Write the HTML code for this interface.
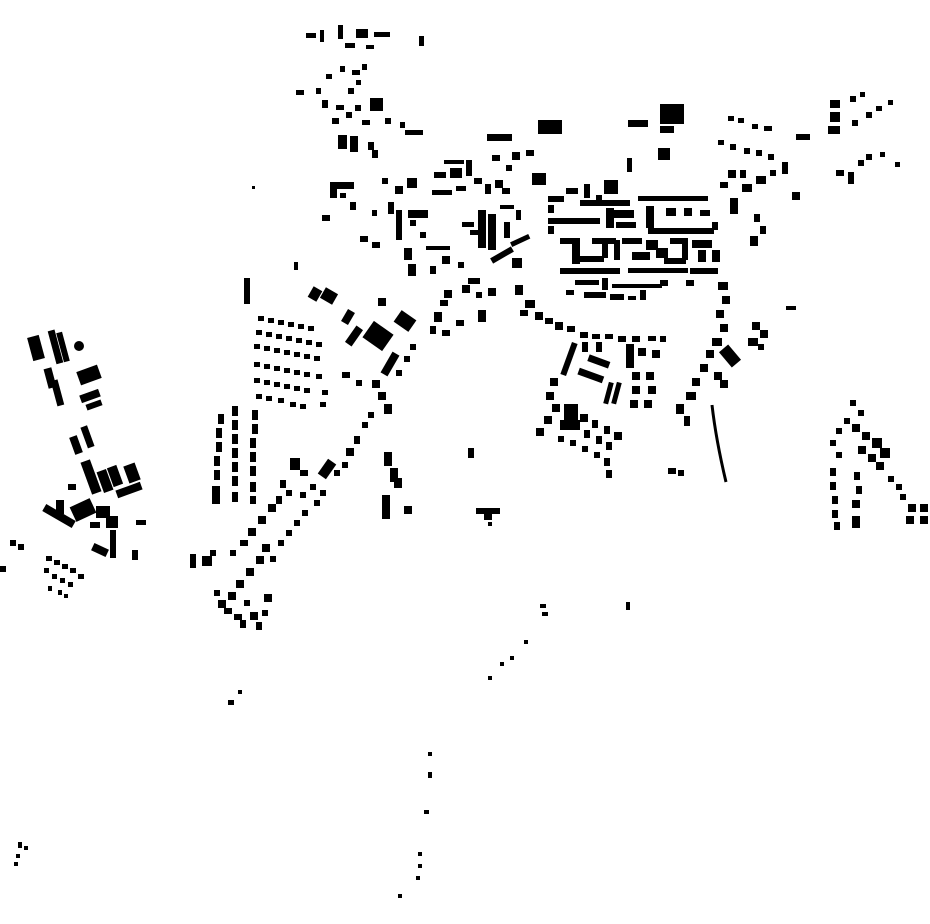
<!DOCTYPE html>
<html><head><meta charset="utf-8"><style>html,body{margin:0;padding:0;background:#fff}svg{display:block}</style></head>
<body>
<svg width="930" height="924" viewBox="0 0 930 924" xmlns="http://www.w3.org/2000/svg" fill="#000">
<!-- north cluster -->
<rect x="306" y="33" width="10" height="5"/><rect x="320" y="30" width="4" height="12"/><rect x="338" y="25" width="5" height="14"/><rect x="356" y="29" width="12" height="9"/><rect x="374" y="32" width="16" height="5"/><rect x="345" y="43" width="10" height="5"/><rect x="366" y="45" width="8" height="4"/><rect x="419" y="36" width="5" height="10"/>
<rect x="326" y="74" width="6" height="5"/><rect x="340" y="66" width="5" height="6"/><rect x="352" y="70" width="8" height="5"/><rect x="362" y="64" width="5" height="6"/><rect x="296" y="90" width="8" height="5"/><rect x="316" y="88" width="5" height="6"/><rect x="348" y="88" width="6" height="6"/><rect x="356" y="80" width="5" height="5"/>
<rect x="322" y="100" width="6" height="8"/><rect x="336" y="105" width="8" height="5"/><rect x="370" y="98" width="13" height="13"/><rect x="355" y="105" width="6" height="6"/><rect x="332" y="118" width="7" height="6"/><rect x="346" y="112" width="6" height="6"/><rect x="362" y="120" width="8" height="5"/><rect x="385" y="118" width="6" height="6"/><rect x="338" y="135" width="9" height="14"/><rect x="350" y="136" width="8" height="16"/><rect x="368" y="142" width="6" height="8"/><rect x="372" y="150" width="6" height="8"/><rect x="405" y="130" width="18" height="5"/><rect x="400" y="122" width="5" height="6"/>
<!-- north-center row -->
<rect x="487" y="134" width="25" height="7"/><rect x="538" y="120" width="24" height="14"/><rect x="628" y="120" width="20" height="7"/><rect x="660" y="104" width="24" height="20"/><rect x="660" y="126" width="14" height="7"/><rect x="658" y="148" width="12" height="12"/><rect x="627" y="158" width="5" height="14"/>
<rect x="492" y="155" width="8" height="6"/><rect x="512" y="152" width="8" height="8"/><rect x="526" y="150" width="8" height="6"/><rect x="506" y="165" width="6" height="6"/><rect x="532" y="173" width="14" height="12"/>
<!-- west of centre -->
<rect x="330" y="182" width="24" height="7"/><rect x="330" y="182" width="7" height="16"/><rect x="340" y="193" width="6" height="5"/><rect x="382" y="178" width="6" height="6"/><rect x="395" y="186" width="8" height="8"/><rect x="407" y="178" width="10" height="10"/><rect x="434" y="172" width="12" height="6"/><rect x="450" y="168" width="12" height="10"/><rect x="444" y="160" width="20" height="4"/><rect x="466" y="160" width="6" height="16"/><rect x="474" y="178" width="8" height="6"/>
<rect x="322" y="215" width="8" height="6"/><rect x="350" y="202" width="6" height="8"/><rect x="372" y="210" width="5" height="6"/><rect x="388" y="202" width="6" height="12"/><rect x="396" y="210" width="6" height="30"/><rect x="408" y="210" width="20" height="8"/><rect x="410" y="220" width="6" height="6"/><rect x="432" y="190" width="20" height="5"/><rect x="456" y="186" width="10" height="5"/><rect x="420" y="232" width="6" height="6"/>
<rect x="360" y="236" width="8" height="6"/><rect x="372" y="242" width="8" height="6"/><rect x="404" y="248" width="8" height="12"/><rect x="408" y="264" width="8" height="12"/><rect x="426" y="246" width="24" height="4"/><rect x="442" y="256" width="8" height="8"/><rect x="430" y="266" width="6" height="8"/><rect x="458" y="262" width="6" height="6"/>
<!-- belt around oval -->
<rect x="478" y="210" width="8" height="38"/><rect x="488" y="214" width="8" height="36"/><rect x="485" y="184" width="6" height="10"/><rect x="495" y="180" width="8" height="8"/><rect x="502" y="188" width="8" height="6"/><rect x="462" y="222" width="12" height="5"/><rect x="470" y="230" width="8" height="5"/><rect x="504" y="222" width="6" height="16"/><rect x="516" y="210" width="5" height="10"/><rect x="500" y="205" width="14" height="4"/>
<rect x="490" y="252" width="24" height="6" transform="rotate(-30 502 255)"/><rect x="510" y="238" width="20" height="5" transform="rotate(-25 520 240)"/><rect x="512" y="258" width="10" height="10"/><rect x="468" y="278" width="12" height="6"/><rect x="488" y="288" width="8" height="8"/><rect x="476" y="292" width="6" height="6"/><rect x="462" y="285" width="8" height="8"/>
<rect x="444" y="290" width="8" height="8"/><rect x="440" y="300" width="8" height="6"/><rect x="434" y="312" width="8" height="10"/><rect x="430" y="326" width="6" height="8"/><rect x="442" y="330" width="8" height="6"/><rect x="478" y="310" width="8" height="12"/><rect x="456" y="320" width="8" height="6"/>
<rect x="515" y="285" width="8" height="10"/><rect x="525" y="300" width="10" height="8"/><rect x="520" y="310" width="8" height="6"/><rect x="535" y="312" width="8" height="8"/><rect x="545" y="318" width="8" height="6"/><rect x="555" y="322" width="8" height="8"/><rect x="567" y="326" width="8" height="6"/><rect x="580" y="332" width="8" height="6"/><rect x="592" y="334" width="8" height="5"/><rect x="605" y="334" width="8" height="5"/><rect x="618" y="336" width="8" height="6"/><rect x="632" y="336" width="8" height="6"/><rect x="648" y="336" width="8" height="5"/><rect x="660" y="336" width="6" height="6"/>
<!-- old town oval -->
<rect x="548" y="196" width="16" height="6"/><rect x="548" y="205" width="6" height="8"/><rect x="566" y="188" width="12" height="6"/><rect x="584" y="184" width="6" height="14"/><rect x="604" y="180" width="14" height="14"/><rect x="638" y="196" width="70" height="5"/><rect x="580" y="200" width="50" height="6"/><rect x="596" y="195" width="6" height="10"/>
<rect x="548" y="218" width="52" height="6"/><rect x="548" y="226" width="6" height="8"/><rect x="606" y="208" width="8" height="20"/><rect x="614" y="210" width="20" height="8"/><rect x="616" y="222" width="20" height="6"/><rect x="646" y="206" width="8" height="22"/><rect x="648" y="228" width="66" height="6"/><rect x="666" y="208" width="10" height="8"/><rect x="684" y="208" width="8" height="8"/><rect x="700" y="210" width="10" height="6"/>
<rect x="560" y="238" width="20" height="6"/><rect x="572" y="242" width="8" height="22"/><rect x="580" y="256" width="24" height="6"/><rect x="592" y="238" width="24" height="6"/><rect x="602" y="244" width="6" height="14"/><rect x="614" y="240" width="6" height="20"/><rect x="622" y="238" width="20" height="6"/><rect x="632" y="252" width="18" height="8"/><rect x="646" y="240" width="12" height="10"/><rect x="656" y="248" width="12" height="10"/><rect x="670" y="238" width="18" height="6"/><rect x="682" y="244" width="6" height="16"/><rect x="692" y="240" width="20" height="8"/><rect x="698" y="250" width="8" height="12"/><rect x="712" y="250" width="8" height="12"/><rect x="664" y="258" width="22" height="6"/>
<rect x="560" y="268" width="60" height="6"/><rect x="628" y="268" width="60" height="5"/><rect x="690" y="268" width="28" height="6"/><rect x="575" y="280" width="24" height="5"/><rect x="602" y="278" width="6" height="12"/><rect x="612" y="284" width="50" height="4"/><rect x="660" y="280" width="8" height="6"/><rect x="686" y="280" width="8" height="6"/><rect x="584" y="292" width="22" height="6"/><rect x="610" y="294" width="14" height="6"/><rect x="640" y="290" width="6" height="10"/><rect x="628" y="296" width="8" height="4"/><rect x="566" y="290" width="8" height="5"/>
<rect x="728" y="170" width="8" height="8"/><rect x="720" y="182" width="8" height="6"/><rect x="730" y="198" width="8" height="16"/><rect x="712" y="222" width="6" height="8"/><rect x="750" y="236" width="8" height="10"/><rect x="754" y="214" width="6" height="8"/><rect x="760" y="226" width="6" height="8"/>
<!-- NE -->
<rect x="728" y="116" width="6" height="5"/><rect x="738" y="118" width="6" height="5"/><rect x="752" y="124" width="6" height="5"/><rect x="764" y="126" width="8" height="5"/><rect x="796" y="134" width="14" height="6"/><rect x="718" y="140" width="6" height="5"/><rect x="730" y="144" width="6" height="6"/><rect x="744" y="148" width="6" height="6"/><rect x="756" y="150" width="6" height="6"/><rect x="768" y="154" width="6" height="6"/><rect x="782" y="162" width="6" height="12"/><rect x="770" y="170" width="6" height="6"/><rect x="756" y="176" width="10" height="8"/><rect x="742" y="184" width="10" height="8"/><rect x="740" y="170" width="6" height="8"/><rect x="792" y="192" width="8" height="8"/>
<rect x="830" y="100" width="10" height="8"/><rect x="830" y="112" width="10" height="10"/><rect x="828" y="126" width="12" height="8"/><rect x="850" y="96" width="6" height="6"/><rect x="860" y="92" width="5" height="5"/><rect x="876" y="106" width="6" height="5"/><rect x="888" y="100" width="5" height="5"/><rect x="866" y="112" width="6" height="6"/><rect x="852" y="120" width="6" height="6"/><rect x="836" y="170" width="8" height="6"/><rect x="848" y="172" width="6" height="12"/><rect x="858" y="160" width="6" height="6"/><rect x="866" y="154" width="6" height="6"/><rect x="880" y="152" width="5" height="5"/><rect x="895" y="162" width="5" height="5"/><rect x="786" y="306" width="10" height="4"/>
<!-- east of centre -->
<rect x="718" y="282" width="10" height="8"/><rect x="722" y="296" width="8" height="8"/><rect x="716" y="310" width="8" height="8"/><rect x="720" y="324" width="8" height="8"/><rect x="712" y="338" width="10" height="8"/><rect x="724" y="346" width="12" height="20" transform="rotate(-40 730 356)"/><rect x="706" y="350" width="8" height="8"/><rect x="700" y="364" width="8" height="8"/><rect x="714" y="372" width="8" height="8"/><rect x="692" y="378" width="8" height="8"/><rect x="686" y="392" width="10" height="8"/><rect x="676" y="404" width="8" height="10"/><rect x="684" y="416" width="6" height="10"/><rect x="720" y="380" width="8" height="8"/><rect x="752" y="322" width="8" height="8"/><rect x="760" y="330" width="8" height="8"/><rect x="748" y="338" width="10" height="8"/><rect x="758" y="344" width="6" height="6"/>
<path d="M712 405 Q716 440 726 482" stroke="#000" stroke-width="3" fill="none"/>
<rect x="668" y="468" width="8" height="6"/><rect x="678" y="470" width="6" height="6"/>
<!-- south of old town -->
<rect x="566" y="342" width="6" height="34" transform="rotate(20 569 359)"/><rect x="582" y="342" width="6" height="10"/><rect x="596" y="342" width="6" height="10"/><rect x="588" y="358" width="22" height="7" transform="rotate(20 599 361)"/><rect x="578" y="372" width="26" height="7" transform="rotate(20 591 375)"/><rect x="626" y="344" width="8" height="24"/><rect x="638" y="348" width="8" height="8"/><rect x="652" y="350" width="8" height="8"/><rect x="606" y="382" width="5" height="22" transform="rotate(15 608 393)"/><rect x="614" y="382" width="5" height="22" transform="rotate(15 616 393)"/><rect x="632" y="372" width="8" height="8"/><rect x="646" y="372" width="8" height="8"/><rect x="632" y="386" width="8" height="8"/><rect x="648" y="386" width="8" height="8"/><rect x="630" y="400" width="8" height="8"/><rect x="644" y="400" width="8" height="8"/>
<rect x="550" y="378" width="8" height="8"/><rect x="546" y="392" width="8" height="8"/><rect x="552" y="404" width="8" height="8"/><rect x="544" y="416" width="8" height="8"/><rect x="536" y="428" width="8" height="8"/><rect x="564" y="404" width="14" height="18"/><rect x="560" y="420" width="20" height="10"/><rect x="580" y="414" width="8" height="8"/><rect x="592" y="420" width="6" height="8"/><rect x="604" y="426" width="6" height="8"/><rect x="614" y="432" width="8" height="8"/><rect x="584" y="430" width="6" height="8"/><rect x="596" y="436" width="6" height="8"/><rect x="606" y="442" width="6" height="8"/><rect x="558" y="436" width="6" height="6"/><rect x="570" y="440" width="6" height="6"/><rect x="582" y="446" width="6" height="6"/><rect x="594" y="452" width="6" height="6"/><rect x="604" y="458" width="6" height="8"/><rect x="606" y="470" width="6" height="8"/>
<!-- grid block W -->
<rect x="310" y="288" width="10" height="12" transform="rotate(30 315 294)"/><rect x="322" y="290" width="14" height="12" transform="rotate(30 329 296)"/><rect x="344" y="310" width="8" height="14" transform="rotate(30 348 317)"/><rect x="350" y="326" width="8" height="20" transform="rotate(35 354 336)"/><rect x="366" y="326" width="24" height="20" transform="rotate(35 378 336)"/><rect x="396" y="314" width="18" height="14" transform="rotate(35 405 321)"/><rect x="378" y="298" width="8" height="8"/><rect x="386" y="352" width="8" height="24" transform="rotate(30 390 364)"/><rect x="372" y="380" width="8" height="8"/><rect x="378" y="392" width="8" height="8"/><rect x="384" y="404" width="8" height="10"/><rect x="396" y="370" width="6" height="6"/><rect x="404" y="356" width="6" height="6"/><rect x="410" y="344" width="6" height="6"/><rect x="342" y="372" width="8" height="6"/><rect x="356" y="380" width="6" height="6"/><rect x="244" y="278" width="6" height="26"/><rect x="294" y="262" width="4" height="8"/>
<g>
<rect x="258" y="316" width="6" height="5"/><rect x="268" y="318" width="6" height="5"/><rect x="278" y="320" width="6" height="5"/><rect x="288" y="322" width="6" height="5"/><rect x="298" y="324" width="6" height="5"/><rect x="308" y="326" width="6" height="5"/>
<rect x="256" y="330" width="6" height="5"/><rect x="266" y="332" width="6" height="5"/><rect x="276" y="334" width="6" height="5"/><rect x="286" y="336" width="6" height="5"/><rect x="296" y="338" width="6" height="5"/><rect x="306" y="340" width="6" height="5"/><rect x="316" y="342" width="6" height="5"/>
<rect x="254" y="344" width="6" height="5"/><rect x="264" y="346" width="6" height="5"/><rect x="274" y="348" width="6" height="5"/><rect x="284" y="350" width="6" height="5"/><rect x="294" y="352" width="6" height="5"/><rect x="304" y="354" width="6" height="5"/><rect x="314" y="356" width="6" height="5"/>
<rect x="254" y="362" width="6" height="5"/><rect x="264" y="364" width="6" height="5"/><rect x="274" y="366" width="6" height="5"/><rect x="284" y="368" width="6" height="5"/><rect x="294" y="370" width="6" height="5"/><rect x="304" y="372" width="6" height="5"/><rect x="316" y="374" width="6" height="5"/>
<rect x="254" y="378" width="6" height="5"/><rect x="264" y="380" width="6" height="5"/><rect x="274" y="382" width="6" height="5"/><rect x="284" y="384" width="6" height="5"/><rect x="294" y="386" width="6" height="5"/><rect x="304" y="388" width="6" height="5"/><rect x="322" y="390" width="6" height="5"/>
<rect x="256" y="394" width="6" height="5"/><rect x="266" y="396" width="6" height="5"/><rect x="278" y="398" width="6" height="5"/><rect x="290" y="402" width="6" height="5"/><rect x="300" y="404" width="6" height="5"/><rect x="320" y="402" width="6" height="5"/>
</g>
<!-- column -->
<rect x="218" y="414" width="6" height="10"/><rect x="216" y="428" width="6" height="10"/><rect x="216" y="442" width="6" height="10"/><rect x="214" y="456" width="6" height="10"/><rect x="214" y="470" width="6" height="10"/><rect x="212" y="486" width="8" height="18"/>
<rect x="232" y="406" width="6" height="10"/><rect x="232" y="420" width="6" height="10"/><rect x="232" y="434" width="6" height="10"/><rect x="232" y="448" width="6" height="10"/><rect x="232" y="462" width="6" height="10"/><rect x="232" y="476" width="6" height="10"/><rect x="232" y="492" width="6" height="10"/>
<rect x="252" y="410" width="6" height="10"/><rect x="252" y="424" width="6" height="10"/><rect x="250" y="438" width="6" height="10"/><rect x="250" y="452" width="6" height="10"/><rect x="250" y="466" width="6" height="10"/><rect x="250" y="482" width="6" height="10"/><rect x="250" y="496" width="6" height="8"/>
<!-- diagonal road -->
<rect x="290" y="458" width="10" height="12"/><rect x="300" y="470" width="8" height="6"/><rect x="322" y="460" width="10" height="18" transform="rotate(35 327 469)"/><rect x="346" y="448" width="8" height="8"/><rect x="354" y="436" width="6" height="8"/><rect x="362" y="422" width="6" height="6"/><rect x="368" y="412" width="6" height="6"/>
<rect x="280" y="480" width="6" height="8"/><rect x="286" y="490" width="6" height="6"/><rect x="276" y="496" width="6" height="8"/><rect x="268" y="504" width="8" height="8"/><rect x="258" y="516" width="8" height="8"/><rect x="248" y="528" width="8" height="8"/><rect x="240" y="540" width="8" height="6"/><rect x="262" y="544" width="8" height="8"/><rect x="256" y="556" width="8" height="8"/><rect x="246" y="568" width="8" height="8"/><rect x="236" y="580" width="8" height="8"/><rect x="228" y="592" width="8" height="8"/><rect x="218" y="600" width="8" height="8"/><rect x="214" y="590" width="6" height="6"/>
<rect x="300" y="492" width="6" height="6"/><rect x="310" y="484" width="6" height="6"/><rect x="320" y="490" width="6" height="6"/><rect x="314" y="500" width="6" height="6"/><rect x="302" y="510" width="6" height="6"/><rect x="294" y="520" width="6" height="6"/><rect x="286" y="530" width="6" height="6"/><rect x="278" y="540" width="6" height="6"/><rect x="270" y="556" width="6" height="6"/>
<rect x="334" y="470" width="6" height="6"/><rect x="342" y="462" width="6" height="6"/>
<rect x="224" y="608" width="8" height="6"/><rect x="234" y="614" width="8" height="6"/><rect x="244" y="600" width="6" height="6"/><rect x="250" y="612" width="8" height="8"/><rect x="240" y="620" width="6" height="8"/><rect x="256" y="622" width="6" height="8"/><rect x="264" y="594" width="8" height="8"/><rect x="262" y="610" width="6" height="6"/>
<rect x="190" y="554" width="6" height="14"/><rect x="202" y="556" width="10" height="10"/><rect x="210" y="550" width="6" height="6"/><rect x="230" y="550" width="6" height="6"/>
<rect x="384" y="452" width="8" height="14"/><rect x="390" y="468" width="8" height="14"/><rect x="394" y="478" width="8" height="10"/><rect x="382" y="495" width="8" height="24"/><rect x="404" y="506" width="8" height="8"/><rect x="468" y="448" width="6" height="10"/>
<rect x="476" y="508" width="24" height="6"/><rect x="484" y="514" width="8" height="6"/><rect x="488" y="522" width="4" height="4"/>
<!-- west industrial -->
<rect x="30" y="336" width="12" height="24" transform="rotate(-15 36 348)"/><rect x="52" y="330" width="7" height="34" transform="rotate(-15 55 347)"/><rect x="60" y="332" width="6" height="30" transform="rotate(-15 63 347)"/><circle cx="79" cy="346" r="5"/><rect x="46" y="368" width="8" height="20" transform="rotate(-15 50 378)"/><rect x="54" y="380" width="7" height="26" transform="rotate(-15 57 393)"/><rect x="78" y="368" width="22" height="14" transform="rotate(-20 89 375)"/><rect x="80" y="392" width="20" height="8" transform="rotate(-20 90 396)"/><rect x="86" y="402" width="16" height="6" transform="rotate(-20 94 405)"/>
<rect x="72" y="436" width="8" height="18" transform="rotate(-20 76 445)"/><rect x="84" y="426" width="7" height="22" transform="rotate(-20 87 437)"/><rect x="86" y="460" width="10" height="34" transform="rotate(-20 91 477)"/><rect x="100" y="470" width="10" height="22" transform="rotate(-20 105 481)"/><rect x="110" y="466" width="10" height="20" transform="rotate(-20 115 476)"/><rect x="126" y="464" width="12" height="18" transform="rotate(-20 132 473)"/><rect x="116" y="486" width="26" height="8" transform="rotate(-20 129 490)"/><rect x="68" y="484" width="8" height="6"/>
<rect x="72" y="502" width="22" height="16" transform="rotate(-25 83 510)"/><rect x="42" y="512" width="34" height="8" transform="rotate(30 59 516)"/><rect x="56" y="500" width="8" height="14"/><rect x="96" y="506" width="14" height="12"/><rect x="106" y="516" width="12" height="12"/><rect x="90" y="522" width="10" height="6"/><rect x="92" y="546" width="16" height="8" transform="rotate(25 100 550)"/><rect x="110" y="530" width="6" height="28"/><rect x="136" y="520" width="10" height="5"/><rect x="132" y="550" width="6" height="10"/>
<rect x="10" y="540" width="6" height="6"/><rect x="18" y="544" width="6" height="6"/><rect x="0" y="566" width="6" height="6"/>
<rect x="46" y="556" width="6" height="5"/><rect x="54" y="560" width="6" height="5"/><rect x="62" y="564" width="6" height="5"/><rect x="70" y="568" width="6" height="5"/><rect x="78" y="574" width="6" height="5"/><rect x="44" y="568" width="5" height="5"/><rect x="52" y="574" width="5" height="5"/><rect x="60" y="578" width="5" height="5"/><rect x="68" y="582" width="5" height="5"/><rect x="48" y="586" width="4" height="5"/><rect x="58" y="590" width="4" height="5"/><rect x="64" y="594" width="4" height="4"/>
<!-- far east -->
<rect x="850" y="400" width="6" height="6"/><rect x="858" y="410" width="6" height="6"/><rect x="844" y="418" width="6" height="6"/><rect x="836" y="428" width="6" height="6"/><rect x="830" y="440" width="6" height="6"/><rect x="836" y="452" width="6" height="6"/><rect x="852" y="424" width="8" height="8"/><rect x="862" y="432" width="8" height="8"/><rect x="872" y="438" width="10" height="10"/><rect x="880" y="448" width="10" height="10"/><rect x="868" y="454" width="8" height="8"/><rect x="858" y="446" width="8" height="8"/><rect x="876" y="462" width="8" height="8"/>
<rect x="830" y="468" width="6" height="8"/><rect x="830" y="482" width="6" height="8"/><rect x="832" y="496" width="6" height="8"/><rect x="832" y="510" width="6" height="8"/><rect x="834" y="522" width="6" height="8"/><rect x="854" y="472" width="6" height="8"/><rect x="856" y="486" width="6" height="8"/><rect x="852" y="500" width="8" height="8"/><rect x="852" y="516" width="8" height="12"/><rect x="888" y="476" width="6" height="6"/><rect x="896" y="484" width="6" height="6"/><rect x="900" y="494" width="6" height="6"/><rect x="908" y="504" width="8" height="8"/><rect x="920" y="504" width="8" height="8"/><rect x="906" y="516" width="8" height="8"/><rect x="920" y="516" width="8" height="8"/>
<!-- scattered south -->
<rect x="540" y="604" width="6" height="4"/><rect x="542" y="612" width="6" height="4"/><rect x="626" y="602" width="4" height="8"/><rect x="524" y="640" width="4" height="4"/><rect x="510" y="656" width="4" height="4"/><rect x="500" y="662" width="4" height="4"/><rect x="488" y="676" width="4" height="4"/><rect x="238" y="690" width="4" height="4"/><rect x="228" y="700" width="6" height="5"/>
<rect x="428" y="752" width="4" height="4"/><rect x="428" y="772" width="4" height="6"/><rect x="424" y="810" width="5" height="4"/><rect x="418" y="852" width="4" height="4"/><rect x="418" y="864" width="4" height="4"/><rect x="416" y="876" width="4" height="4"/><rect x="398" y="894" width="4" height="4"/>
<rect x="18" y="842" width="4" height="6"/><rect x="24" y="846" width="4" height="4"/><rect x="16" y="854" width="4" height="4"/><rect x="14" y="862" width="4" height="4"/><rect x="252" y="186" width="3" height="3"/>
</svg>
</body></html>
